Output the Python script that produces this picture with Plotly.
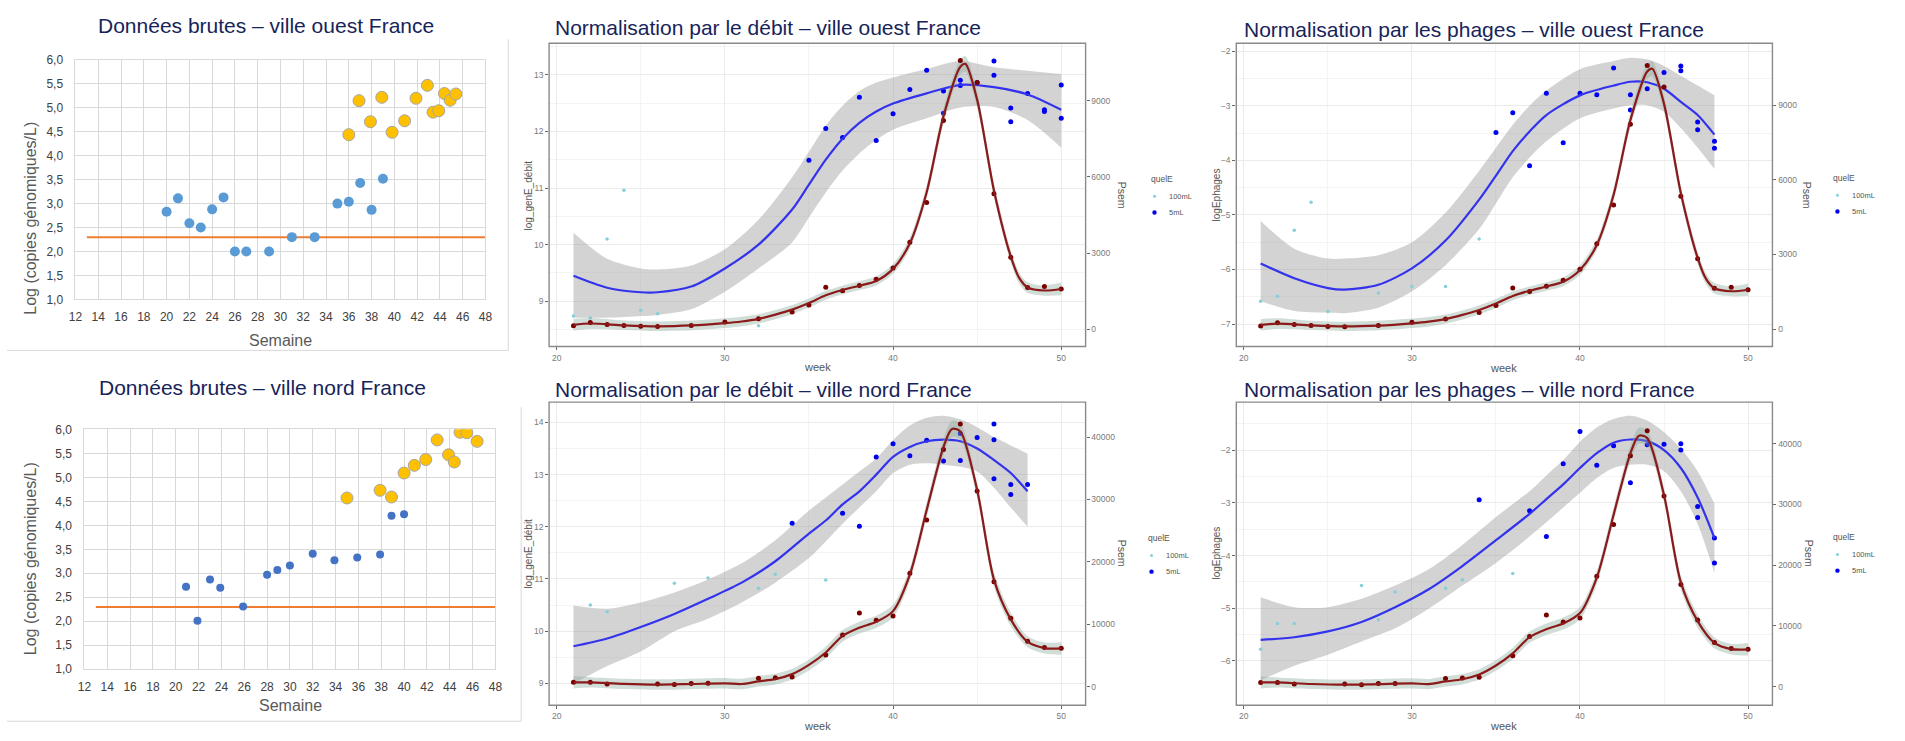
import plotly.graph_objects as go

# ---------------- DATA ----------------
# Excel panels (raw data)
excel_week_ticks = list(range(12, 49, 2))
excel_log_ticks = [1.0, 1.5, 2.0, 2.5, 3.0, 3.5, 4.0, 4.5, 5.0, 5.5, 6.0]
excel_log_ticktext = ["1,0", "1,5", "2,0", "2,5", "3,0", "3,5", "4,0", "4,5", "5,0", "5,5", "6,0"]
lod_weeks = [13, 48]
lod_values = [2.3, 2.3]

ouest_blue_week = [20, 21, 22, 23, 24, 25, 26, 27, 29, 31, 33, 35, 36, 37, 38, 39]
ouest_blue_log = [2.83, 3.11, 2.59, 2.50, 2.88, 3.13, 2.00, 2.00, 2.00, 2.30, 2.30, 3.00, 3.04, 3.43, 2.87, 3.52]
ouest_gold_week = [36, 36.9, 37.9, 38.9, 39.8, 40.9, 41.9, 42.9, 43.4, 43.9, 44.4, 44.9, 45.4]
ouest_gold_log = [4.44, 5.15, 4.71, 5.22, 4.49, 4.73, 5.20, 5.47, 4.91, 4.94, 5.30, 5.16, 5.29]

nord_blue_week = [20.9, 21.9, 23, 23.9, 25.9, 28, 28.9, 30, 32, 33.9, 35.9, 37.9, 38.9, 40]
nord_blue_log = [2.72, 2.01, 2.87, 2.70, 2.31, 2.97, 3.07, 3.16, 3.41, 3.27, 3.33, 3.39, 4.20, 4.23]
nord_gold_week = [35, 37.9, 38.9, 40, 40.9, 41.9, 42.9, 43.9, 44.4, 44.9, 45.5, 46.4]
nord_gold_log = [4.57, 4.73, 4.59, 5.09, 5.25, 5.37, 5.78, 5.47, 5.32, 5.94, 5.93, 5.75]

# ggplot panels: smoothed fits (blue) with confidence ribbon
debit_ouest_w = [21, 23, 25, 26, 28, 30, 32, 34, 35, 36, 37, 38, 39, 40, 42, 44, 46, 48, 50]
debit_ouest_fit = [9.45, 9.24, 9.16, 9.16, 9.26, 9.58, 10.0, 10.62, 11.06, 11.50, 11.87, 12.15, 12.35, 12.49, 12.67, 12.82, 12.78, 12.65, 12.38]
debit_ouest_hi = [10.21, 9.75, 9.58, 9.56, 9.63, 9.92, 10.44, 11.19, 11.64, 12.10, 12.45, 12.71, 12.86, 12.95, 13.1, 13.24, 13.13, 13.07, 13.01]
debit_ouest_lo = [8.71, 8.71, 8.74, 8.76, 8.86, 9.17, 9.58, 10.04, 10.48, 10.92, 11.31, 11.61, 11.85, 12.03, 12.23, 12.42, 12.43, 12.2, 11.71]

phages_ouest_w = [21, 23, 25, 26, 28, 30, 32, 34, 35, 36, 37, 38, 40, 42, 43, 44, 45, 46, 47, 48]
phages_ouest_fit = [-5.89, -6.16, -6.34, -6.37, -6.28, -5.98, -5.47, -4.72, -4.28, -3.83, -3.47, -3.17, -2.81, -2.63, -2.56, -2.57, -2.69, -2.93, -3.17, -3.53]
phages_ouest_hi = [-5.11, -5.62, -5.80, -5.80, -5.74, -5.50, -4.96, -4.19, -3.77, -3.35, -3.0, -2.72, -2.33, -2.18, -2.12, -2.15, -2.27, -2.45, -2.63, -2.81]
phages_ouest_lo = [-6.58, -6.76, -6.79, -6.80, -6.70, -6.40, -5.92, -5.26, -4.79, -4.31, -3.95, -3.65, -3.23, -3.05, -2.99, -2.99, -3.11, -3.41, -3.77, -4.16]

debit_nord_w = [21, 23, 25, 27, 29, 31, 33, 35, 36, 37, 38, 39, 40, 41, 42, 43, 44, 45, 46, 47, 48]
debit_nord_fit = [9.71, 9.86, 10.08, 10.33, 10.62, 10.93, 11.34, 11.87, 12.12, 12.43, 12.68, 13.0, 13.34, 13.53, 13.64, 13.67, 13.64, 13.5, 13.28, 13.03, 12.68]
debit_nord_hi = [10.49, 10.43, 10.55, 10.74, 10.99, 11.3, 11.74, 12.31, 12.56, 12.81, 13.06, 13.31, 13.66, 13.94, 14.09, 14.13, 14.06, 13.91, 13.72, 13.56, 13.4]
debit_nord_lo = [8.99, 9.33, 9.61, 10.0, 10.24, 10.55, 10.93, 11.4, 11.72, 12.06, 12.37, 12.68, 13.03, 13.19, 13.22, 13.19, 13.15, 13.06, 12.75, 12.37, 12.0]

phages_nord_w = [21, 23, 25, 27, 29, 31, 33, 35, 37, 38, 39, 40, 41, 42, 43, 44, 45, 46, 47, 48]
phages_nord_fit = [-5.6, -5.55, -5.44, -5.26, -4.98, -4.64, -4.20, -3.71, -3.21, -2.93, -2.65, -2.34, -2.06, -1.86, -1.80, -1.83, -2.0, -2.34, -2.9, -3.67]
phages_nord_hi = [-4.79, -4.98, -4.98, -4.82, -4.57, -4.26, -3.80, -3.27, -2.78, -2.48, -2.19, -1.84, -1.57, -1.41, -1.35, -1.44, -1.66, -1.97, -2.40, -3.02]
phages_nord_lo = [-6.37, -6.09, -5.88, -5.63, -5.38, -5.01, -4.57, -4.14, -3.64, -3.37, -3.09, -2.81, -2.53, -2.34, -2.28, -2.28, -2.40, -2.78, -3.40, -4.33]

# ggplot panels: observed points (quelE groups)
debit_ouest_5_w = [35, 36, 37, 38, 39, 40, 41, 42, 43, 43, 44, 44, 45, 46, 46, 47, 47, 48, 49, 49, 50, 50]
debit_ouest_5_v = [11.49, 12.05, 11.89, 12.6, 11.84, 12.31, 12.74, 13.08, 12.71, 12.32, 12.9, 12.81, 12.86, 13.24, 12.99, 12.41, 12.17, 12.67, 12.38, 12.35, 12.82, 12.23]
debit_ouest_100_w = [21, 22, 23, 24, 25, 26, 32]
debit_ouest_100_v = [8.74, 8.71, 10.1, 10.96, 8.84, 8.78, 8.57]

phages_ouest_5_w = [35, 36, 37, 38, 39, 40, 41, 42, 43, 43, 44, 45, 46, 46, 47, 47, 48, 48]
phages_ouest_5_v = [-3.49, -3.13, -4.10, -2.77, -3.68, -2.77, -2.80, -2.31, -2.80, -3.08, -2.69, -2.39, -2.27, -2.36, -3.30, -3.44, -3.65, -3.78]
phages_ouest_100_w = [21, 22, 23, 24, 25, 28, 30, 32, 34]
phages_ouest_100_v = [-6.58, -6.49, -5.28, -4.77, -6.77, -6.43, -6.31, -6.31, -5.44]

debit_nord_5_w = [34, 37, 38, 39, 40, 41, 42, 43, 44, 44, 45, 46, 46, 46, 47, 47, 48]
debit_nord_5_v = [12.07, 12.26, 12.01, 13.34, 13.59, 13.36, 13.66, 13.26, 13.27, 13.79, 13.71, 13.97, 13.67, 12.92, 12.81, 12.62, 12.81]
debit_nord_100_w = [22, 23, 27, 29, 32, 33, 36]
debit_nord_100_v = [10.5, 10.37, 10.92, 11.02, 10.82, 11.09, 10.98]

phages_nord_5_w = [34, 37, 38, 39, 40, 41, 42, 43, 44, 45, 46, 46, 47, 47, 48, 48]
phages_nord_5_v = [-2.94, -3.15, -3.64, -2.26, -1.65, -2.29, -1.92, -2.62, -1.90, -1.89, -1.88, -2.0, -3.07, -3.28, -3.67, -4.14]
phages_nord_100_w = [21, 22, 23, 27, 28, 29, 32, 33, 36]
phages_nord_100_v = [-5.78, -5.29, -5.29, -4.57, -5.22, -4.69, -4.62, -4.46, -4.34]

# Psem (secondary axis): smoothed curve, ribbon, observed points
psem_ouest_w = [21, 22, 24, 26, 28, 30, 31, 32, 33, 34, 35, 36, 37, 38, 39, 40, 41, 42, 43, 44, 44.3, 45, 46, 47, 47.5, 48, 49, 50]
psem_ouest_fit = [170, 220, 150, 110, 143, 234, 300, 404, 570, 768, 1028, 1334, 1542, 1712, 1900, 2375, 3384, 5400, 8400, 10350, 10460, 9050, 5470, 2865, 2018, 1640, 1522, 1582]
psem_ouest_lo = [-60, 0, -40, -80, -50, 40, 110, 220, 390, 590, 850, 1160, 1370, 1540, 1720, 2180, 3170, 5150, 8100, 10050, 10150, 8750, 5200, 2620, 1800, 1430, 1320, 1330]
psem_ouest_hi = [400, 440, 340, 300, 336, 428, 490, 588, 750, 946, 1206, 1508, 1714, 1884, 2080, 2570, 3600, 5650, 8700, 10650, 10770, 9350, 5740, 3110, 2236, 1850, 1724, 1834]
psem_ouest_pts_w = [21, 22, 23, 24, 25, 26, 28, 30, 32, 34, 35, 36, 37, 38, 39, 40, 41, 42, 43, 44, 45, 46, 47, 48, 49, 50]
psem_ouest_pts_v = [130, 260, 182, 143, 110, 98, 143, 280, 410, 670, 950, 1647, 1510, 1724, 1965, 2408, 3430, 4990, 8232, 10595, 9730, 5337, 2831, 1640, 1679, 1582]

psem_nord_w = [21, 22, 24, 26, 28, 30, 31, 32, 33, 34, 35, 36, 37, 38, 39, 40, 41, 42, 43, 43.5, 44, 45, 46, 47, 48, 49, 50]
psem_nord_fit = [690, 681, 425, 314, 419, 530, 419, 850, 1205, 2000, 3480, 5470, 8130, 9450, 10380, 12100, 17950, 28300, 38400, 41300, 40900, 31500, 17150, 10780, 7200, 6180, 6130]
psem_nord_lo = [-300, -150, -400, -520, -420, -320, -430, 0, 350, 1150, 2600, 4550, 7200, 8500, 9400, 11100, 16900, 27100, 37100, 40000, 39600, 30300, 16000, 9700, 6300, 5300, 5100]
psem_nord_hi = [1700, 1500, 1250, 1150, 1250, 1380, 1270, 1700, 2060, 2850, 4360, 6400, 9060, 10400, 11360, 13100, 19000, 29500, 39700, 42600, 42200, 32700, 18300, 11860, 8100, 7060, 7160]
psem_nord_pts_w = [21, 22, 23, 26, 27, 28, 29, 32, 33, 34, 36, 37, 38, 39, 40, 41, 42, 43, 44, 45, 46, 47, 48, 49, 50]
psem_nord_pts_v = [690, 690, 430, 410, 320, 500, 520, 1350, 1430, 1560, 5070, 8260, 11800, 10650, 11310, 18160, 26700, 38000, 42100, 31360, 16800, 10970, 7250, 6270, 6160]

gg_week_ticks = [20, 30, 40, 50]
gg_week_minor = [25, 35, 45]
psem_ouest_ticks = [0, 3000, 6000, 9000]
psem_nord_ticks = [0, 10000, 20000, 30000, 40000]
legend_labels = ["100mL", "5mL"]

# ---------------- LAYOUT HELPERS ----------------
W, H = 1905, 741
def fx(p):
    return p / W
def fy(p):
    return 1 - p / H

FONT = "Liberation Sans, Arial, sans-serif"
TITLE_COLOR = "#172459"
BLUE5 = "#0000F0"
CYAN100 = "#86CFD8"
FIT_BLUE = "#3333EE"
DARKRED = "#8B1A1A"

fig = go.Figure()

# ---------------- EXCEL PANELS ----------------
def excel_panel(xa, ya, bw, bl, gw, gl, blue_col, blue_size):
    fig.add_trace(go.Scatter(x=lod_weeks, y=lod_values, mode="lines",
                             line=dict(color="#ED7D31", width=2), xaxis=xa, yaxis=ya,
                             showlegend=False, hoverinfo="skip"))
    fig.add_trace(go.Scatter(x=bw, y=bl, mode="markers",
                             marker=dict(color=blue_col, size=blue_size, line=dict(width=0)),
                             xaxis=xa, yaxis=ya, showlegend=False))
    fig.add_trace(go.Scatter(x=gw, y=gl, mode="markers",
                             marker=dict(color="#FFC000", size=12, line=dict(color="#A6A6A6", width=1)),
                             xaxis=xa, yaxis=ya, showlegend=False))

excel_panel("x", "y", ouest_blue_week, ouest_blue_log, ouest_gold_week, ouest_gold_log, "#5B9BD5", 10)
excel_panel("x2", "y2", nord_blue_week, nord_blue_log, nord_gold_week, nord_gold_log, "#4472C4", 8)

# ---------------- GGPLOT PANELS ----------------
def gg_panel(xa, yl, yr, fw, fit, lo, hi, p5w, p5v, p100w, p100v, pw, pfit, plo, phi, ptw, ptv):
    fig.add_trace(go.Scatter(x=fw, y=lo, mode="lines", line=dict(width=0, shape="spline", smoothing=0.8),
                             xaxis=xa, yaxis=yl, showlegend=False, hoverinfo="skip"))
    fig.add_trace(go.Scatter(x=fw, y=hi, mode="lines", line=dict(width=0, shape="spline", smoothing=0.8),
                             fill="tonexty", fillcolor="rgba(150,150,150,0.42)",
                             xaxis=xa, yaxis=yl, showlegend=False, hoverinfo="skip"))
    fig.add_trace(go.Scatter(x=p100w, y=p100v, mode="markers",
                             marker=dict(color=CYAN100, size=3.5), xaxis=xa, yaxis=yl, showlegend=False))
    fig.add_trace(go.Scatter(x=p5w, y=p5v, mode="markers",
                             marker=dict(color=BLUE5, size=5), xaxis=xa, yaxis=yl, showlegend=False))
    fig.add_trace(go.Scatter(x=fw, y=fit, mode="lines",
                             line=dict(color=FIT_BLUE, width=2.2, shape="spline", smoothing=0.8),
                             xaxis=xa, yaxis=yl, showlegend=False))
    # Psem on secondary axis
    fig.add_trace(go.Scatter(x=pw, y=plo, mode="lines", line=dict(width=0, shape="spline", smoothing=0.8),
                             xaxis=xa, yaxis=yr, showlegend=False, hoverinfo="skip"))
    fig.add_trace(go.Scatter(x=pw, y=phi, mode="lines", line=dict(width=0, shape="spline", smoothing=0.8),
                             fill="tonexty", fillcolor="rgba(140,170,155,0.40)",
                             xaxis=xa, yaxis=yr, showlegend=False, hoverinfo="skip"))
    fig.add_trace(go.Scatter(x=ptw, y=ptv, mode="markers",
                             marker=dict(color="#7A0000", size=5), xaxis=xa, yaxis=yr, showlegend=False))
    fig.add_trace(go.Scatter(x=pw, y=pfit, mode="lines",
                             line=dict(color=DARKRED, width=2.2, shape="spline", smoothing=0.8),
                             xaxis=xa, yaxis=yr, showlegend=False))

gg_panel("x3", "y3", "y4", debit_ouest_w, debit_ouest_fit, debit_ouest_lo, debit_ouest_hi,
         debit_ouest_5_w, debit_ouest_5_v, debit_ouest_100_w, debit_ouest_100_v,
         psem_ouest_w, psem_ouest_fit, psem_ouest_lo, psem_ouest_hi, psem_ouest_pts_w, psem_ouest_pts_v)
gg_panel("x4", "y5", "y6", phages_ouest_w, phages_ouest_fit, phages_ouest_lo, phages_ouest_hi,
         phages_ouest_5_w, phages_ouest_5_v, phages_ouest_100_w, phages_ouest_100_v,
         psem_ouest_w, psem_ouest_fit, psem_ouest_lo, psem_ouest_hi, psem_ouest_pts_w, psem_ouest_pts_v)
gg_panel("x5", "y7", "y8", debit_nord_w, debit_nord_fit, debit_nord_lo, debit_nord_hi,
         debit_nord_5_w, debit_nord_5_v, debit_nord_100_w, debit_nord_100_v,
         psem_nord_w, psem_nord_fit, psem_nord_lo, psem_nord_hi, psem_nord_pts_w, psem_nord_pts_v)
gg_panel("x6", "y9", "y10", phages_nord_w, phages_nord_fit, phages_nord_lo, phages_nord_hi,
         phages_nord_5_w, phages_nord_5_v, phages_nord_100_w, phages_nord_100_v,
         psem_nord_w, psem_nord_fit, psem_nord_lo, psem_nord_hi, psem_nord_pts_w, psem_nord_pts_v)

# ---------------- AXES ----------------
def excel_x(dom, anchor):
    return dict(domain=[fx(dom[0]), fx(dom[1])], range=[12, 48], anchor=anchor,
                tickmode="array", tickvals=excel_week_ticks, showgrid=True, gridcolor="#D9D9D9",
                gridwidth=1, zeroline=False, showline=True, linecolor="#D9D9D9", mirror=True,
                ticks="", ticklabelstandoff=6, tickfont=dict(family=FONT, size=12, color="#404040"))

def excel_y(dom, anchor):
    return dict(domain=[fy(dom[1]), fy(dom[0])], range=[1, 6], anchor=anchor,
                tickmode="array", tickvals=excel_log_ticks, ticktext=excel_log_ticktext,
                showgrid=True, gridcolor="#D9D9D9", gridwidth=1, zeroline=False,
                showline=True, linecolor="#D9D9D9", mirror=True, ticks="", ticklabelstandoff=9,
                tickfont=dict(family=FONT, size=12, color="#404040"))

TICKFONT = dict(family=FONT, size=8.5, color="#7A7A7A")

def gg_x(dom, anchor):
    return dict(domain=[fx(dom[0]), fx(dom[1])], range=[19.55, 51.45], anchor=anchor,
                tickmode="array", tickvals=gg_week_ticks, showgrid=True, gridcolor="#EBEBEB",
                minor=dict(tickvals=gg_week_minor, showgrid=True, gridcolor="#F4F4F4", ticks=""),
                zeroline=False, showline=False, ticks="outside", ticklen=3, tickcolor="#666666",
                tickfont=TICKFONT)

def gg_yl(dom, anchor, rng, tv, mv):
    return dict(domain=[fy(dom[1]), fy(dom[0])], range=rng, anchor=anchor,
                tickmode="array", tickvals=tv, showgrid=True, gridcolor="#EBEBEB",
                minor=dict(tickvals=mv, showgrid=True, gridcolor="#F4F4F4", ticks=""),
                zeroline=False, showline=False, ticks="outside", ticklen=3, tickcolor="#666666",
                tickfont=TICKFONT)

def gg_yr(over, anchor, rng, tv):
    return dict(overlaying=over, side="right", anchor=anchor, range=rng,
                tickmode="array", tickvals=tv, ticktext=[str(v) for v in tv],
                showgrid=False, zeroline=False, showline=False,
                ticks="outside", ticklen=3, tickcolor="#666666", tickfont=TICKFONT)

P1 = (69, 482, 54, 298)
P2 = (78, 492, 430.5, 675)
P3 = (546.1, 1086.6, 37, 346)
P4 = (1238.4, 1778.5, 37, 346)
P5 = (546.1, 1086.6, 402.7, 711.7)
P6 = (1238.4, 1778.5, 402.7, 711.7)

layout_axes = dict(
    xaxis=excel_x(P1[:2], "y"), yaxis=excel_y(P1[2:], "x"),
    xaxis2=excel_x(P2[:2], "y2"), yaxis2=excel_y(P2[2:], "x2"),
    xaxis3=gg_x(P3[:2], "y3"),
    yaxis3=gg_yl(P3[2:], "x3", [8.203, 13.554], [9, 10, 11, 12, 13], [8.5, 9.5, 10.5, 11.5, 12.5, 13.5]),
    yaxis4=gg_yr("y3", "x3", [-685, 11272], psem_ouest_ticks),
    xaxis4=gg_x(P4[:2], "y5"),
    yaxis5=gg_yl(P4[2:], "x4", [-7.41, -1.856], [-7, -6, -5, -4, -3, -2], [-6.5, -5.5, -4.5, -3.5, -2.5]),
    yaxis6=gg_yr("y5", "x4", [-697, 11483], psem_ouest_ticks),
    xaxis5=gg_x(P5[:2], "y7"),
    yaxis7=gg_yl(P5[2:], "x5", [8.58, 14.39], [9, 10, 11, 12, 13, 14], [9.5, 10.5, 11.5, 12.5, 13.5]),
    yaxis8=gg_yr("y7", "x5", [-2987, 45597], psem_nord_ticks),
    xaxis6=gg_x(P6[:2], "y9"),
    yaxis9=gg_yl(P6[2:], "x6", [-6.84, -1.09], [-6, -5, -4, -3, -2], [-5.5, -4.5, -3.5, -2.5, -1.5]),
    yaxis10=gg_yr("y9", "x6", [-3069, 46830], psem_nord_ticks),
)

# ---------------- SHAPES ----------------
shapes = []
# Excel chart-area borders (right and bottom edges)
for (xr, yt, yb) in [(505, 33, 350), (518, 408, 728)]:
    shapes.append(dict(type="line", xref="paper", yref="paper", x0=fx(xr), x1=fx(xr), y0=fy(yt), y1=fy(yb),
                       line=dict(color="#D9D9D9", width=1)))
    shapes.append(dict(type="line", xref="paper", yref="paper", x0=0, x1=fx(xr), y0=fy(yb), y1=fy(yb),
                       line=dict(color="#D9D9D9", width=1)))
# ggplot panel borders
for xa, ya in [("x3", "y3"), ("x4", "y5"), ("x5", "y7"), ("x6", "y9")]:
    shapes.append(dict(type="rect", xref=xa + " domain", yref=ya + " domain", x0=0, x1=1, y0=0, y1=1,
                       line=dict(color="#8A8A8A", width=1.4), layer="above"))

annotations = []
def text(x, y, s, size, color, xanchor="center", angle=0, family=FONT):
    annotations.append(dict(text=s, x=fx(x), y=fy(y), xref="paper", yref="paper", showarrow=False,
                            xanchor=xanchor, yanchor="middle", textangle=angle,
                            font=dict(family=family, size=size, color=color)))

# legends (quelE)
for (lx, ly) in [(1150, 175), (1838, 174), (1147, 541), (1838, 540)]:
    text(lx, ly, "quelE", 8.5, "#555555", xanchor="left")
    for k, (lab, col, r) in enumerate(zip(legend_labels, [CYAN100, BLUE5], [1.5, 2.2])):
        yy = ly + 18 + 16.5 * k
        shapes.append(dict(type="circle", xref="paper", yref="paper", xsizemode="pixel", ysizemode="pixel",
                           xanchor=fx(lx + 6), yanchor=fy(yy), x0=-r, x1=r, y0=-r, y1=r,
                           fillcolor=col, line=dict(width=0)))
        text(lx + 19, yy, lab, 7.5, "#555555", xanchor="left")

# Titles
text(261, 19, "Données brutes – ville ouest France", 21, TITLE_COLOR)
text(257, 388, "Données brutes – ville nord France", 21, TITLE_COLOR)
text(550, 21, "Normalisation par le débit – ville ouest France", 21, TITLE_COLOR, xanchor="left")
text(1244, 23, "Normalisation par les phages – ville ouest France", 21, TITLE_COLOR, xanchor="left")
text(550, 390, "Normalisation par le débit – ville nord France", 21, TITLE_COLOR, xanchor="left")
text(1244, 390, "Normalisation par les phages – ville nord France", 21, TITLE_COLOR, xanchor="left")

# Excel axis titles
text(24, 215, "Log (copies génomiques/L)", 16, "#595959", angle=-90)
text(276, 340, "Semaine", 16, "#595959")
text(24, 562, "Log (copies génomiques/L)", 16, "#595959", angle=-90)
text(286, 712, "Semaine", 16, "#595959")

# ggplot axis titles
AX = "#555555"
for (cx, cy, ltx, lab, rtx) in [(816, 367, 525, "log_genE_débit", 1123), (1508, 368, 1218, "logEphages", 1813)]:
    text(cx, cy, "week", 11, AX)
    text(ltx, 192, lab, 10, AX, angle=-90)
    text(rtx, 192, "Psem", 10.5, AX, angle=90)
for (cx, cy, ltx, lab, rtx) in [(816, 733, 525, "log_genE_débit", 1123), (1508, 733, 1218, "logEphages", 1815)]:
    text(cx, cy, "week", 11, AX)
    text(ltx, 557, lab, 10, AX, angle=-90)
    text(rtx, 557, "Psem", 10.5, AX, angle=90)

fig.update_layout(
    width=W, height=H, margin=dict(l=0, r=0, t=0, b=0),
    paper_bgcolor="white", plot_bgcolor="white",
    font=dict(family=FONT),
    showlegend=False, shapes=shapes, annotations=annotations,
    **layout_axes,
)

fig.write_html("out.html", config={"displayModeBar": False},
               post_script="document.body.style.margin='0';document.body.style.overflow='hidden';")
